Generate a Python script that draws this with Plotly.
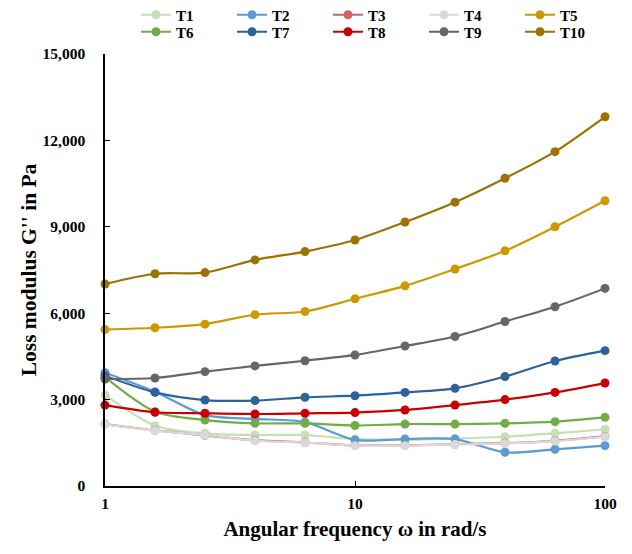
import plotly.graph_objects as go

freq = [1, 1.585, 2.512, 3.981, 6.31, 10, 15.85, 25.12, 39.81, 63.1, 100]

T1 = [3160, 2095, 1830, 1770, 1770, 1630, 1610, 1650, 1710, 1830, 1970]
T2 = [3935, 3275, 2460, 2330, 2220, 1600, 1630, 1630, 1170, 1275, 1400]
T3 = [2150, 1930, 1760, 1590, 1510, 1410, 1410, 1450, 1490, 1570, 1720]
T4 = [2140, 1920, 1770, 1575, 1505, 1400, 1400, 1445, 1480, 1560, 1710]
T5 = [5430, 5495, 5620, 5950, 6060, 6500, 6950, 7535, 8165, 9000, 9905]
T6 = [3780, 2580, 2290, 2175, 2175, 2100, 2150, 2150, 2175, 2235, 2385]
T7 = [3830, 3250, 2985, 2965, 3080, 3135, 3250, 3390, 3800, 4340, 4700]
T8 = [2810, 2560, 2525, 2500, 2525, 2550, 2640, 2810, 3000, 3250, 3575]
T9 = [3715, 3750, 3970, 4170, 4350, 4550, 4860, 5190, 5710, 6225, 6860]
T10 = [7015, 7370, 7410, 7850, 8140, 8540, 9165, 9855, 10685, 11610, 12820]

names = ["T1", "T2", "T3", "T4", "T5", "T6", "T7", "T8", "T9", "T10"]
series = [T1, T2, T3, T4, T5, T6, T7, T8, T9, T10]
colors = ["#C5E0B4", "#5B9BD5", "#CF6565", "#D9D9D9", "#CC9A00",
          "#70AD47", "#2C6399", "#C80000", "#666666", "#9C7300"]

y_ticks = [0, 3000, 6000, 9000, 12000, 15000]
x_ticks = [1, 10, 100]

FONT = "Liberation Serif, Times New Roman, serif"

fig = go.Figure()
for i, (name, vals, col) in enumerate(zip(names, series, colors)):
    fig.add_trace(go.Scatter(
        x=freq, y=vals, name=name, mode="lines+markers",
        line=dict(color=col, width=2.2, shape="spline", smoothing=0.8),
        marker=dict(color=col, size=9),
        cliponaxis=False,
        legend="legend" if i < 5 else "legend2",
    ))

leg_common = dict(
    orientation="h", xref="container", yref="container",
    x=136 / 632, xanchor="left", yanchor="middle",
    entrywidth=51, entrywidthmode="pixels",
    font=dict(family=FONT, size=15, weight="bold", color="black"),
    bgcolor="rgba(0,0,0,0)",
)

fig.update_layout(
    width=632, height=554,
    margin=dict(l=105, r=27, t=54, b=68, autoexpand=False),
    paper_bgcolor="white", plot_bgcolor="white",
    font=dict(family=FONT, color="black"),
    showlegend=True,
    legend=dict(leg_common, y=1 - 15 / 554),
    legend2=dict(leg_common, y=1 - 32 / 554),
    xaxis=dict(
        type="log", range=[0, 2],
        tickvals=x_ticks, ticktext=[str(v) for v in x_ticks],
        showgrid=False, zeroline=False,
        showline=True, linecolor="black", linewidth=1.5,
        ticks="inside", ticklen=5, tickcolor="black",
        tickfont=dict(family=FONT, size=15.5, weight="bold", color="black"),
        ticklabelstandoff=3,
        title=dict(text="Angular frequency ω in rad/s",
                   font=dict(family=FONT, size=21, weight="bold", color="black"),
                   standoff=10),
    ),
    yaxis=dict(
        range=[0, 15000], tickvals=y_ticks, tickformat=",",
        showgrid=False, zeroline=False,
        showline=True, linecolor="black", linewidth=1.5,
        ticks="inside", ticklen=5, tickcolor="black",
        tickfont=dict(family=FONT, size=15.5, weight="bold", color="black"),
        ticklabelstandoff=15,
        title=dict(text="Loss modulus G'' in Pa",
                   font=dict(family=FONT, size=21.5, weight="bold", color="black"),
                   standoff=0),
    ),
)

fig.write_html("out.html")
